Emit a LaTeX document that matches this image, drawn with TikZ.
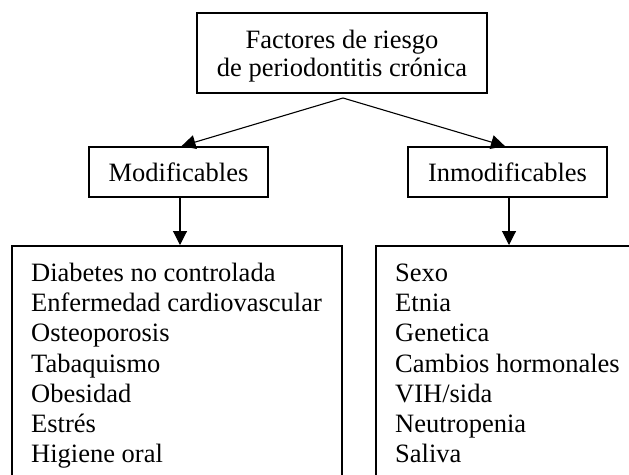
\documentclass[tikz,border=0pt]{standalone}
\usepackage{fontspec}
\setmainfont{Liberation Serif}
\usetikzlibrary{arrows.meta}
\tikzset{
  boxnode/.style={draw, line width=1.7pt, inner sep=0pt, rectangle},
  txt/.style={inner sep=0pt, font=\fontsize{26.5}{30}\selectfont},
  conn/.style={line width=1.1pt, -{Triangle[length=14pt,width=14pt]}},
}
\begin{document}
\begin{tikzpicture}[x=1pt,y=-1pt]
\useasboundingbox (0,0) rectangle (629,474);
\clip (0,0) rectangle (629,474);
% top box
\node[boxnode, minimum width=290pt, minimum height=80pt] (top) at (342,53) {};
\node[txt, anchor=base] (t1) at (342,48) {Factores de riesgo};
\node[txt, anchor=base] (t2) at (342,76) {de periodontitis crónica};
% level 2
\node[boxnode, minimum width=179pt, minimum height=50pt, txt] (mod) at (178.5,172) {Modificables};
\node[boxnode, minimum width=199pt, minimum height=50pt, txt] (inm) at (507.5,172) {Inmodificables};
% list boxes
\node[boxnode, minimum width=330pt, minimum height=260pt, anchor=north west] (lbox) at (11,245) {};
\node[boxnode, minimum width=300pt, minimum height=260pt, anchor=north west] (rbox) at (375,245) {};
\foreach \t [count=\i] in {Diabetes no controlada, Enfermedad cardiovascular, Osteoporosis, Tabaquismo, Obesidad, Estrés, Higiene oral}
  \node[txt, anchor=base west] (l\i) at (31,{281.5+30.2*(\i-1)}) {\t};
\foreach \t [count=\i] in {Sexo, Etnia, Genetica, Cambios hormonales, VIH/sida, Neutropenia, Saliva}
  \node[txt, anchor=base west] (r\i) at (395,{281.5+30.2*(\i-1)}) {\t};
% connectors
\coordinate (apex) at (343,98);
\draw[conn] (apex) -- ([xshift=3pt]mod.north);
\draw[conn] (apex) -- ([xshift=-2.5pt]inm.north);
\draw[conn] ([xshift=1.5pt]mod.south) -- ([xshift=1.5pt]mod.south |- lbox.north);
\draw[conn] ([xshift=1.5pt]inm.south) -- ([xshift=1.5pt]inm.south |- rbox.north);
\end{tikzpicture}
\end{document}
